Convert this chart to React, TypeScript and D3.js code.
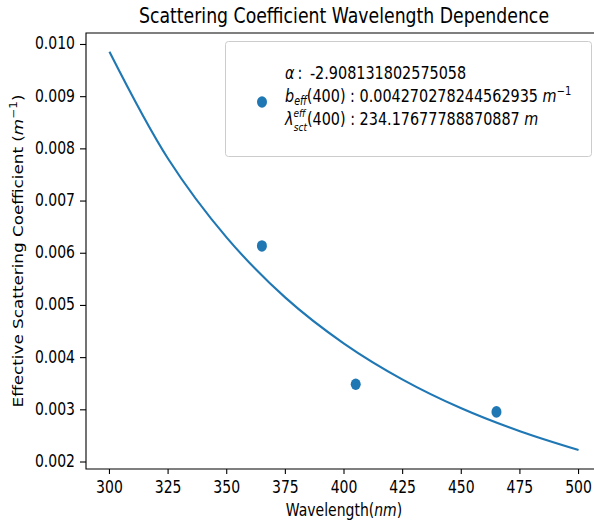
import React from "react";
import * as d3 from "d3";

// fitted power-law curve
const curveWavelengths = [300, 325, 350, 375, 400, 425, 450, 475, 500];
const curveValues = [0.00986, 0.00781, 0.0063, 0.00515, 0.00427, 0.00358, 0.00303, 0.00259, 0.00223];

// measured samples
const sampleWavelengths = [365, 405, 465];
const sampleValues = [0.00614, 0.00349, 0.00296];

const xTicks = [300, 325, 350, 375, 400, 425, 450, 475, 500];
const yTicks = [0.002, 0.003, 0.004, 0.005, 0.006, 0.007, 0.008, 0.009, 0.01];

const alphaText = "-2.908131802575058";
const bEffText = "0.004270278244562935";
const lambdaText = "234.17677788870887";

const W = 594;
const H = 523;
const margin = { top: 33, right: -8, bottom: 54, left: 86 };
const blue = "#1f77b4";
const font = "DejaVu Sans, sans-serif";
// the reference looks stretched a bit vertically, so text is too
const SY = 1.2;

// horizontal text stretched vertically around its baseline
const T = ({ x, y, children, ...rest }: any) => (
  <g transform={`translate(${x},${y}) scale(1,${SY})`}>
    <text fill="#000" {...rest}>
      {children}
    </text>
  </g>
);

const App = () => {
  const x = d3
    .scaleLinear()
    .domain([290, 510])
    .range([margin.left, W - margin.right]);
  const y = d3
    .scaleLinear()
    .domain([0.001866, 0.01022])
    .range([H - margin.bottom, margin.top]);

  const curve = curveWavelengths.map((w, i) => [w, curveValues[i]] as [number, number]);
  const line = d3
    .line<[number, number]>()
    .x((d) => x(d[0]))
    .y((d) => y(d[1]))
    .curve(d3.curveCatmullRom);

  const plotBottom = H - margin.bottom;
  const plotRight = W - margin.right;

  return (
    <svg
      width={W}
      height={H}
      style={{ position: "absolute", left: 0, top: 0, background: "#fff" }}
      fontFamily={font}
    >
      <rect width={W} height={H} fill="#fff" />

      {/* title */}
      <T x={(margin.left + plotRight) / 2} y={23} textAnchor="middle" fontSize={17.3}>
        Scattering Coefficient Wavelength Dependence
      </T>

      {/* fitted line */}
      <path d={line(curve) || ""} fill="none" stroke={blue} strokeWidth={2.1} />

      {/* samples */}
      {sampleWavelengths.map((w, i) => (
        <ellipse key={i} cx={x(w)} cy={y(sampleValues[i])} rx={5} ry={5.8} fill={blue} />
      ))}

      {/* spines */}
      <path
        d={`M${plotRight},${margin.top}H${margin.left}V${plotBottom}H${plotRight}`}
        fill="none"
        stroke="#000"
        strokeWidth={1.1}
      />

      {/* x axis */}
      {xTicks.map((t) => (
        <g key={t}>
          <line x1={x(t)} x2={x(t)} y1={plotBottom} y2={plotBottom + 5} stroke="#000" strokeWidth={1.1} />
          <T x={x(t)} y={plotBottom + 24} textAnchor="middle" fontSize={14}>
            {t}
          </T>
        </g>
      ))}
      <T x={(margin.left + plotRight) / 2} y={516} textAnchor="middle" fontSize={14}>
        Wavelength(<tspan fontStyle="italic">nm</tspan>)
      </T>

      {/* y axis */}
      {yTicks.map((t) => (
        <g key={t}>
          <line x1={margin.left} x2={margin.left - 6} y1={y(t)} y2={y(t)} stroke="#000" strokeWidth={1.1} />
          <T x={margin.left - 11} y={y(t) + 5} textAnchor="end" fontSize={14}>
            {d3.format(".3f")(t)}
          </T>
        </g>
      ))}
      <g transform={`translate(23,${(margin.top + plotBottom) / 2}) rotate(-90) scale(${SY},1)`}>
        <text textAnchor="middle" fontSize={14} fill="#000">
          Effective Scattering Coefficient (<tspan fontStyle="italic">m</tspan>
          <tspan fontSize={10} dy={-6}>−1</tspan>
          <tspan dy={6}>)</tspan>
        </text>
      </g>

      {/* legend */}
      <rect x={225.5} y={41.5} width={366} height={115} rx={3} fill="#fff" stroke="#ccc" strokeWidth={1} />
      <ellipse cx={262} cy={102} rx={5} ry={5.8} fill={blue} />
      <T x={285} y={79} fontSize={14.4}>
        <tspan fontStyle="italic">α</tspan>
        <tspan dx={3}>:</tspan>
        <tspan dx={3}> {alphaText}</tspan>
      </T>
      <T x={285} y={102} fontSize={14.4}>
        <tspan fontStyle="italic">b</tspan>
        <tspan fontStyle="italic" fontSize={9.5} dy={2.5}>eff</tspan>
        <tspan dy={-2.5}>(400) : {bEffText} </tspan>
        <tspan fontStyle="italic">m</tspan>
        <tspan fontSize={10} dy={-6}>−1</tspan>
      </T>
      <T x={285} y={125} fontSize={14.4}>
        <tspan fontStyle="italic">λ</tspan>
        <tspan fontStyle="italic" fontSize={9} dy={-6.5}>eff</tspan>
        <tspan fontStyle="italic" fontSize={9} dx={-11.8} dy={11.5}>sct</tspan>
        <tspan dy={-5}>(400) : {lambdaText} </tspan>
        <tspan fontStyle="italic">m</tspan>
      </T>
    </svg>
  );
};

export default App;
